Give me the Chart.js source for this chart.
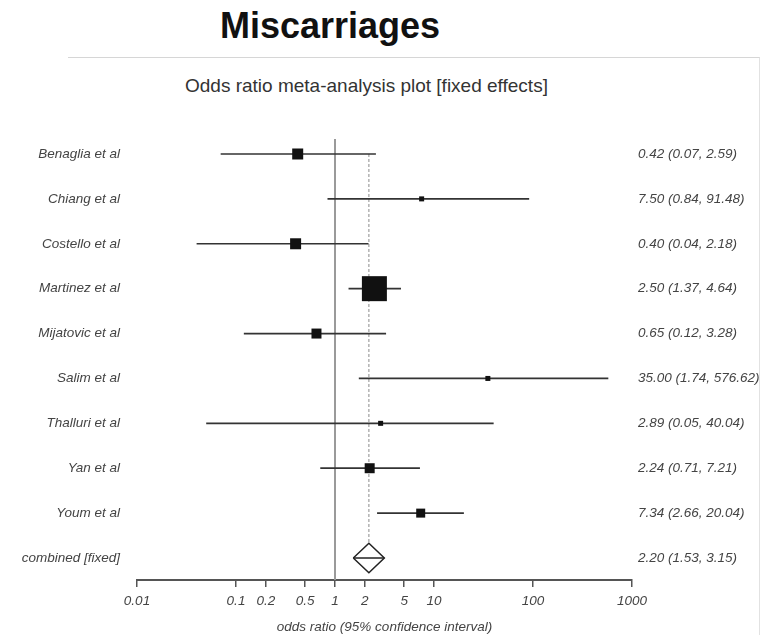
<!DOCTYPE html>
<html>
<head>
<meta charset="utf-8">
<title>Miscarriages</title>
<script src="https://cdn.jsdelivr.net/npm/chart.js@4.4.1/dist/chart.umd.min.js"></script>
<style>
  body { margin: 0; background: #fff; font-family: 'Liberation Sans', Arial, sans-serif; }
  #wrap { position: relative; width: 765px; height: 635px; overflow: hidden; }
  #frame { position: absolute; left: 68px; top: 57px; width: 691px; height: 600px;
           border-top: 1px solid #d6d6d6; border-right: 1px solid #e2e2e2; }
  #title { position: absolute; left: 220px; top: 8px; font-size: 36px; line-height: 36px;
           font-weight: bold; color: #111; white-space: nowrap; }
  #subtitle { position: absolute; left: 185px; top: 76px; font-size: 19px; line-height: 19px;
              color: #333; white-space: nowrap; }
  #chart { position: absolute; left: 0; top: 0; }
</style>
</head>
<body>
<div id="wrap">
  <div id="frame"></div>
  <div id="title">Miscarriages</div>
  <div id="subtitle">Odds ratio meta-analysis plot [fixed effects]</div>
  <canvas id="chart" width="765" height="635"></canvas>
</div>
<script>
// study rows, top to bottom
const studies = ['Benaglia et al', 'Chiang et al', 'Costello et al', 'Martinez et al', 'Mijatovic et al',
                 'Salim et al', 'Thalluri et al', 'Yan et al', 'Youm et al', 'combined [fixed]'];
const oddsRatio = [0.42, 7.50, 0.40, 2.50, 0.65, 35.00, 2.89, 2.24, 7.34];
const lowerCI   = [0.07, 0.84, 0.04, 1.37, 0.12, 1.74, 0.05, 0.71, 2.66];
const upperCI   = [2.59, 91.48, 2.18, 4.64, 3.28, 576.62, 40.04, 7.21, 20.04];
// combined: estimate, lower, upper
const pooled = [2.20, 1.53, 3.15];

const xTicks = [0.01, 0.1, 0.2, 0.5, 1, 2, 5, 10, 100, 1000];
const xTickLabels = ['0.01', '0.1', '0.2', '0.5', '1', '2', '5', '10', '100', '1000'];

// box side in px (weight of each study)
const boxSide = [11, 5, 11, 25, 10, 5, 5, 10, 9];

const rows = studies.map((_, i) => i);
const ciText = oddsRatio.map((v, i) => v.toFixed(2) + ' (' + lowerCI[i].toFixed(2) + ', ' + upperCI[i].toFixed(2) + ')');
ciText.push(pooled[0].toFixed(2) + ' (' + pooled[1].toFixed(2) + ', ' + pooled[2].toFixed(2) + ')');

const combRow = studies.length - 1;
const diamondHalf = 0.33;
const yMin = -0.334, yMax = 9.49;

const labelFont = { family: 'Liberation Sans', size: 13.5, style: 'italic' };

const ciSets = oddsRatio.map((_, i) => ({
    data: [{ x: lowerCI[i], y: i }, { x: upperCI[i], y: i }],
    showLine: true, borderColor: '#333', borderWidth: 1.7, pointRadius: 0, order: 3
}));

const datasets = [
    // line of no effect
    { data: [{ x: 1, y: yMin }, { x: 1, y: yMax }], showLine: true, borderColor: '#9a9a9a', borderWidth: 2, pointRadius: 0, order: 5 },
    // pooled estimate, dashed
    { data: [{ x: pooled[0], y: 0 }, { x: pooled[0], y: combRow - diamondHalf }], showLine: true,
      borderColor: '#8a8a8a', borderWidth: 1, borderDash: [3, 2], pointRadius: 0, order: 4 },
    ...ciSets,
    // study boxes
    { data: oddsRatio.map((v, i) => ({ x: v, y: i })), pointStyle: 'rect',
      pointRadius: boxSide.map(s => s / Math.SQRT2), pointHoverRadius: boxSide.map(s => s / Math.SQRT2),
      backgroundColor: '#111', borderWidth: 0, order: 1 },
    // combined diamond
    { data: [{ x: pooled[1], y: combRow }, { x: pooled[0], y: combRow - diamondHalf }, { x: pooled[2], y: combRow },
             { x: pooled[0], y: combRow + diamondHalf }, { x: pooled[1], y: combRow }],
      showLine: true, borderColor: '#222', borderWidth: 1.5, pointRadius: 0, fill: false, order: 1 },
    { data: [{ x: pooled[1], y: combRow }, { x: pooled[2], y: combRow }], showLine: true,
      borderColor: '#222', borderWidth: 1.5, pointRadius: 0, order: 1 }
];

new Chart(document.getElementById('chart'), {
    type: 'scatter',
    data: { datasets: datasets },
    options: {
        responsive: false,
        animation: false,
        events: [],
        layout: { padding: { top: 139, left: 0, right: 0, bottom: 0 } },
        plugins: { legend: { display: false }, tooltip: { enabled: false } },
        scales: {
            x: {
                type: 'logarithmic', min: 0.01, max: 1000,
                afterBuildTicks: s => { s.ticks = xTicks.map(v => ({ value: v })); },
                afterFit: s => { s.height = 55; },
                ticks: { callback: (v, i) => xTickLabels[i], font: labelFont, color: '#444',
                         maxRotation: 0, autoSkip: false, padding: 6 },
                grid: { drawOnChartArea: false, tickLength: 7, color: '#555', lineWidth: 1.5 },
                border: { color: '#555', width: 2 },
                title: { display: true, text: 'odds ratio (95% confidence interval)', font: labelFont,
                         color: '#444', padding: { top: 4, bottom: 0 } }
            },
            y: {
                type: 'linear', reverse: true, min: yMin, max: yMax,
                afterBuildTicks: s => { s.ticks = rows.map(v => ({ value: v })); },
                afterFit: s => { s.width = 137; },
                ticks: { callback: v => studies[v], font: labelFont, color: '#444', padding: 17 },
                grid: { display: false, drawTicks: false }, border: { display: false }
            },
            y2: {
                type: 'linear', position: 'right', reverse: true, min: yMin, max: yMax,
                afterBuildTicks: s => { s.ticks = rows.map(v => ({ value: v })); },
                afterFit: s => { s.width = 133; },
                ticks: { callback: v => ciText[v], font: labelFont, color: '#444', padding: 6 },
                grid: { display: false, drawTicks: false }, border: { display: false }
            }
        }
    }
});
</script>
</body>
</html>
